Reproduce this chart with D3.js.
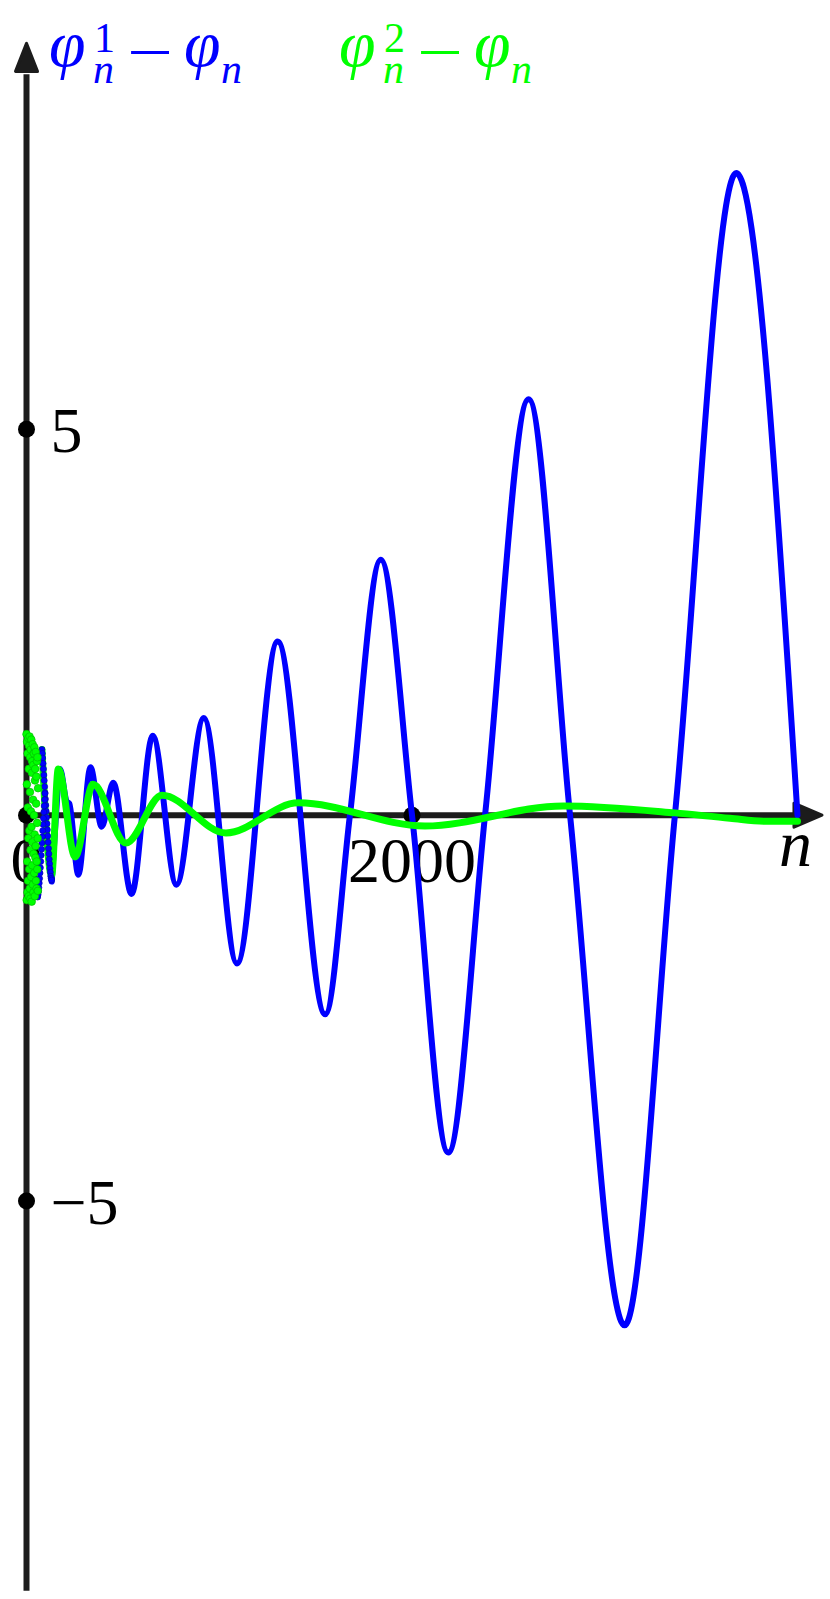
<!DOCTYPE html>
<html>
<head>
<meta charset="utf-8">
<script src="https://cdn.jsdelivr.net/npm/d3@7"></script>
<style>
  body { margin: 0; background: #fff; }
  svg { display: block; }
</style>
</head>
<body>
<script>
// sizes
const width = 830;
const height = 1599;

// ---- data ----
// blue curve: phi^1_n - phi_n  (extrema + a few zero crossings)
const blueN = [131, 153, 174, 208, 222, 269, 332, 390, 450, 545, 655, 778, 920, 1092, 1303, 1550, 1678, 1838, 2000, 2188, 2379, 2605, 2820, 3103, 3364, 3682, 4000];
const blueV = [-0.86, 0, 0.60, 0.18, 0.15, -0.77, 0.62, -0.15, 0.42, -1.02, 1.03, -0.90, 1.26, -1.92, 2.25, -2.58, 0, 3.31, 0, -4.37, 0, 5.39, 0, -6.61, 0, 8.32, 0];

// green curve: phi^2_n - phi_n
const greenN = [80, 130, 165, 252, 345, 516, 703, 1035, 1410, 2067, 2785, 3364, 3650, 3850, 4000];
const greenV = [0.85, -0.78, 0.60, -0.54, 0.40, -0.36, 0.26, -0.23, 0.16, -0.14, 0.12, 0.03, -0.04, -0.08, -0.08];

// scattered points for small n (two interleaved strands for blue)
const blueDotN = [80, 82, 84, 86, 88, 90, 92, 94, 96, 98, 100, 102, 104, 106, 108, 110, 112, 114, 116, 118, 120, 122, 124, 126, 128, 130,
                  58, 60, 62, 64, 66, 68, 70, 72, 74, 76, 78, 80, 82, 84, 86, 88, 90, 92, 94, 96];
const blueDotV = [0.85, 0.80, 0.74, 0.67, 0.60, 0.52, 0.45, 0.37, 0.29, 0.21, 0.13, 0.05, -0.03, -0.11, -0.19, -0.27, -0.35, -0.43, -0.50, -0.57, -0.63, -0.69, -0.74, -0.79, -0.82, -0.84,
                  -1.06, -1.03, -0.99, -0.94, -0.88, -0.82, -0.75, -0.68, -0.60, -0.52, -0.44, -0.36, -0.28, -0.20, -0.12, -0.04, 0.04, 0.12, 0.20, 0.28];
const greenDotN = [0, 1, 2, 3, 4, 5, 6, 7, 8, 9, 10, 11, 12, 13, 14, 15, 16, 17, 18, 19, 20, 21, 22, 23, 24, 25, 26, 27, 28, 29, 30,
                   31, 32, 33, 34, 35, 36, 37, 38, 39, 40, 41, 42, 43, 44, 45, 46, 47, 48, 49, 50, 51, 52, 53, 54, 55, 56, 57, 58, 59, 60];
const greenDotV = [1.05, -1.1, 0.4, 0.95, -0.6, -1.0, 0.8, 0.1, -0.85, 1.0, -0.3, -1.05, 0.6, 0.9, -0.7, -0.2, 1.02, -0.95, 0.3, 0.75, -1.08, -0.45, 0.85, 0.05, -0.8, 0.98, -0.15, -1.12, 0.55, 0.7, -0.65,
                   -0.35, 0.92, -0.9, 0.2, 0.65, -1.0, -0.5, 0.8, 0.0, -0.75, 0.88, -0.25, -1.05, 0.45, 0.6, -0.55, -0.4, 0.82, -0.85, 0.15, 0.5, -0.95, -0.6, 0.7, -0.1, -0.7, 0.75, -0.3, -0.98, 0.35];

// ticks
const xTicks = [0, 2000];
const xTickLabels = ["0", "2000"];
const yTicks = [5, -5];
const yTickLabels = ["5", "\u22125"];

// colours
const blue = "#0000ff";
const green = "#00ff00";
const axisColor = "#1c1c1c";

// ---- scales ----
const xScale = d3.scaleLinear().domain([0, 4000]).range([26.5, 797.5]);
const yScale = d3.scaleLinear().domain([-10, 10]).range([1587, 43.4]);

const svg = d3.select("body").append("svg")
    .attr("width", width)
    .attr("height", height);

const x0 = xScale(0), y0 = yScale(0);

// ---- axes ----
svg.append("line")
    .attr("x1", x0).attr("x2", xScale(4100))
    .attr("y1", y0).attr("y2", y0)
    .attr("stroke", axisColor).attr("stroke-width", 6);
svg.append("line")
    .attr("x1", x0).attr("x2", x0)
    .attr("y1", yScale(-10.05)).attr("y2", yScale(9.6))
    .attr("stroke", axisColor).attr("stroke-width", 6);

// arrow heads
const xTip = xScale(4127);
svg.append("path")
    .attr("d", `M${xTip},${y0} L${xTip - 28},${y0 - 12} L${xTip - 28},${y0 + 12} Z`)
    .attr("fill", axisColor).attr("stroke", axisColor)
    .attr("stroke-width", 3).attr("stroke-linejoin", "round");
const yTip = yScale(10);
svg.append("path")
    .attr("d", `M${x0},${yTip} L${x0 - 11},${yTip + 28} L${x0 + 11},${yTip + 28} Z`)
    .attr("fill", axisColor).attr("stroke", axisColor)
    .attr("stroke-width", 3).attr("stroke-linejoin", "round");

// tick dots
svg.selectAll(".xdot").data(xTicks).enter().append("circle")
    .attr("cx", d => xScale(d)).attr("cy", y0).attr("r", 8.5).attr("fill", "#000");
svg.selectAll(".ydot").data(yTicks).enter().append("circle")
    .attr("cx", x0).attr("cy", d => yScale(d)).attr("r", 8.5).attr("fill", "#000");

// tick labels
const labelFont = "'Liberation Serif', 'Times New Roman', serif";
svg.selectAll(".xlab").data(xTicks).enter().append("text")
    .attr("x", d => xScale(d)).attr("y", y0 + 67)
    .attr("text-anchor", "middle")
    .attr("font-family", labelFont).attr("font-size", 64)
    .text((d, i) => xTickLabels[i]);
svg.selectAll(".ylab").data(yTicks).enter().append("text")
    .attr("x", x0 + 24).attr("y", d => yScale(d) + 23)
    .attr("font-family", labelFont).attr("font-size", 64)
    .text((d, i) => yTickLabels[i]);
svg.append("text")
    .attr("x", 779).attr("y", y0 + 51)
    .attr("font-family", labelFont).attr("font-style", "italic").attr("font-size", 66)
    .text("n");

// ---- series ----
const line = d3.line()
    .x(d => xScale(d[0]))
    .y(d => yScale(d[1]))
    .curve(d3.curveMonotoneX);

svg.append("path")
    .datum(blueN.map((n, i) => [n, blueV[i]]))
    .attr("d", line)
    .attr("fill", "none").attr("stroke", blue).attr("stroke-width", 6)
    .attr("stroke-linejoin", "round").attr("stroke-linecap", "round");

svg.append("path")
    .datum(greenN.map((n, i) => [n, greenV[i]]))
    .attr("d", line)
    .attr("fill", "none").attr("stroke", green).attr("stroke-width", 7)
    .attr("stroke-linejoin", "round").attr("stroke-linecap", "round");

svg.selectAll(".bdot").data(blueDotN).enter().append("circle")
    .attr("cx", d => xScale(d)).attr("cy", (d, i) => yScale(blueDotV[i]))
    .attr("r", 3).attr("fill", blue).attr("stroke", "#0000b0").attr("stroke-width", 0.7);

svg.selectAll(".gdot").data(greenDotN).enter().append("circle")
    .attr("cx", d => xScale(d)).attr("cy", (d, i) => yScale(greenDotV[i]))
    .attr("r", 3.8).attr("fill", green).attr("stroke", "#00c000").attr("stroke-width", 0.7);

// ---- legend title ----
const titleFont = "'Liberation Serif', 'Times New Roman', serif";
function title(x, sup, color) {
    const t = svg.append("text")
        .attr("font-family", titleFont)
        .attr("fill", color);
    const parts = [
        { dx: 0,   y: 66, s: "\u03C6", size: 66, it: true },
        { dx: 45,  y: 52, s: sup,      size: 42, it: false },
        { dx: 44,  y: 83, s: "n",      size: 42, it: true },
        { dx: 135, y: 66, s: "\u03C6", size: 66, it: true },
        { dx: 172, y: 83, s: "n",      size: 42, it: true }
    ];
    parts.forEach(p => {
        t.append("tspan")
            .attr("x", x + p.dx).attr("y", p.y)
            .attr("font-size", p.size)
            .attr("font-style", p.it ? "italic" : "normal")
            .text(p.s);
    });
    // long thin minus sign
    svg.append("text")
        .attr("x", x + 78).attr("y", 73)
        .attr("font-family", titleFont)
        .attr("font-size", 62)
        .attr("fill", color)
        .attr("textLength", 46)
        .attr("lengthAdjust", "spacingAndGlyphs")
        .text("\u2212");
}
title(49, "1", blue);
title(339, "2", green);
</script>
</body>
</html>
